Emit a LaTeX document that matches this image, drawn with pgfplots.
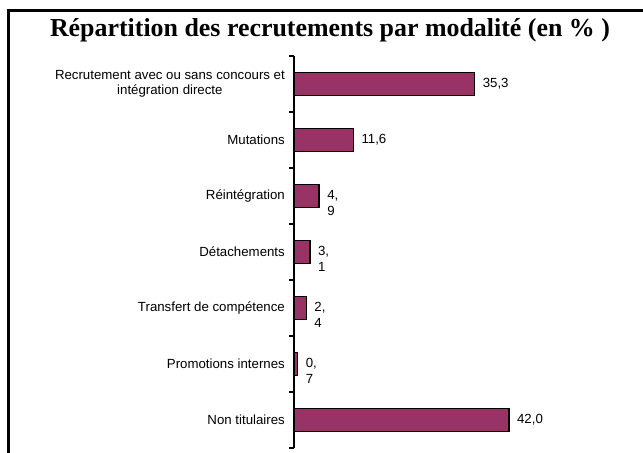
\documentclass[border=0pt]{standalone}
\usepackage{pgfplots}
\pgfplotsset{compat=1.18}
\usepackage{fontspec}
\setmainfont{Liberation Sans}
\newfontfamily\titlefont{Liberation Serif}
\definecolor{plum}{RGB}{153,51,102}
\begin{document}
\begin{tikzpicture}[x=1bp,y=1bp]
\path[use as bounding box] (0,0) rectangle (643,453);
\fill[white] (0,0) rectangle (643,453);
\draw[line width=3bp, line join=miter] (8.5,0) -- (8.5,442.5) -- (643,442.5);
\node[anchor=base, font=\titlefont\bfseries\fontsize{26}{30}\selectfont] at (330,416) {Répartition des recrutements par modalité (en \% )};
\begin{axis}[
  scale only axis, width=307bp, height=392bp,
  at={(294bp,5bp)}, anchor=south west,
  xmin=0, xmax=60, ymin=-0.5, ymax=6.5, y dir=reverse,
  axis x line=none, axis y line*=left,
  axis line style={line width=1.3bp, black},
  clip=false,
  ytick={0,1,2,3,4,5,6},
  yticklabels={{Recrutement avec ou sans concours et\\intégration directe},Mutations,Réintégration,Détachements,Transfert de compétence,Promotions internes,Non titulaires},
  major tick length=0pt,
  minor ytick={-0.5,0.5,1.5,2.5,3.5,4.5,5.5,6.5},
  minor tick length=5bp,
  tick align=outside,
  every tick/.style={black, line width=1.3bp},
  yticklabel style={font=\fontsize{13.3}{15.5}\selectfont, align=center, anchor=east, inner sep=0pt, xshift=-9bp},
]
\addplot[xbar, bar width=23bp, fill=plum, draw=black, line width=1.5bp]
  coordinates {(35.3,0) (11.6,1) (4.9,2) (3.1,3) (2.4,4) (0.7,5) (42.0,6)};
\addplot[draw=none, mark=none, point meta=explicit symbolic, nodes near coords,
  every node near coord/.append style={anchor=west, xshift=8bp, inner sep=0pt, font=\fontsize{13.3}{15.5}\selectfont}]
  coordinates {(35.3,0) [35,3] (11.6,1) [11,6] (4.9,2) [4,] (3.1,3) [3,] (2.4,4) [2,] (0.7,5) [0,] (42.0,6) [42,0]};
\addplot[draw=none, mark=none, point meta=explicit symbolic, nodes near coords,
  every node near coord/.append style={anchor=west, xshift=8bp, yshift=-15bp, inner sep=0pt, font=\fontsize{13.3}{15.5}\selectfont}]
  coordinates {(4.9,2) [9] (3.1,3) [1] (2.4,4) [4] (0.7,5) [7]};
\end{axis}
\end{tikzpicture}
\end{document}
